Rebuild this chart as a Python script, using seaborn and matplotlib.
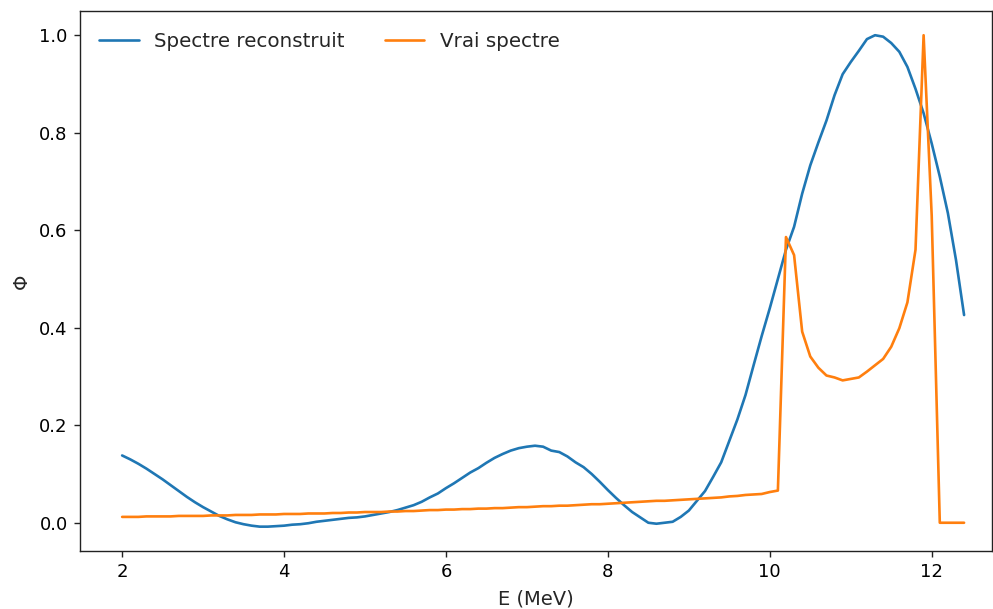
import numpy as np
import pandas as pd
import matplotlib
matplotlib.use("Agg")
import matplotlib.pyplot as plt
import seaborn as sns

energy = [round(2.0 + 0.1 * i, 1) for i in range(105)]

reconstructed = [
    0.138, 0.130, 0.121, 0.111, 0.100, 0.089, 0.077, 0.065, 0.053, 0.042,
    0.032, 0.023, 0.014, 0.007, 0.001, -0.003, -0.006, -0.008, -0.008, -0.007,
    -0.006, -0.004, -0.003, -0.001, 0.002, 0.004, 0.006, 0.008, 0.010, 0.011,
    0.013, 0.016, 0.019, 0.022, 0.026, 0.031, 0.036, 0.043, 0.052, 0.060,
    0.071, 0.081, 0.092, 0.103, 0.112, 0.123, 0.133, 0.141, 0.148, 0.153,
    0.156, 0.158, 0.156, 0.148, 0.145, 0.136, 0.124, 0.114, 0.100, 0.084,
    0.067, 0.051, 0.036, 0.022, 0.011, 0.000, -0.002, 0.000, 0.002, 0.012,
    0.025, 0.045, 0.065, 0.094, 0.124, 0.168, 0.212, 0.262, 0.323, 0.383,
    0.440, 0.500, 0.560, 0.607, 0.675, 0.733, 0.780, 0.825, 0.877, 0.920,
    0.945, 0.968, 0.992, 1.000, 0.997, 0.984, 0.966, 0.935, 0.890, 0.840,
    0.778, 0.710, 0.635, 0.539, 0.426,
]

true_spectrum = [
    0.012, 0.012, 0.012, 0.013, 0.013, 0.013, 0.013, 0.014, 0.014, 0.014,
    0.014, 0.015, 0.015, 0.015, 0.016, 0.016, 0.016, 0.017, 0.017, 0.017,
    0.018, 0.018, 0.018, 0.019, 0.019, 0.019, 0.020, 0.020, 0.021, 0.021,
    0.022, 0.022, 0.022, 0.023, 0.023, 0.024, 0.024, 0.025, 0.026, 0.026,
    0.027, 0.027, 0.028, 0.028, 0.029, 0.029, 0.030, 0.030, 0.031, 0.032,
    0.032, 0.033, 0.034, 0.034, 0.035, 0.035, 0.036, 0.037, 0.038, 0.038,
    0.039, 0.040, 0.041, 0.042, 0.043, 0.044, 0.045, 0.045, 0.046, 0.047,
    0.048, 0.049, 0.050, 0.051, 0.052, 0.054, 0.055, 0.057, 0.058, 0.059,
    0.063, 0.066, 0.586, 0.549, 0.392, 0.341, 0.318, 0.302, 0.298, 0.292,
    0.295, 0.298, 0.310, 0.323, 0.336, 0.361, 0.399, 0.452, 0.560, 1.000,
    0.630, 0.000, 0.000, 0.000, 0.000,
]

series_names = ["Spectre reconstruit", "Vrai spectre"]

df = pd.concat([
    pd.DataFrame({"E": energy, "phi": reconstructed, "serie": series_names[0]}),
    pd.DataFrame({"E": energy, "phi": true_spectrum, "serie": series_names[1]}),
], ignore_index=True)

sns.set_style("ticks")
plt.rcParams["font.family"] = ["DejaVu Sans"]
plt.rcParams["font.size"] = 14

fig = plt.figure(figsize=(9.93, 6.09), dpi=100)
ax = fig.add_axes([0.0806, 0.0952, 0.918, 0.887])

sns.lineplot(data=df, x="E", y="phi", hue="serie", hue_order=series_names,
             palette=["#1f77b4", "#ff7f0e"], linewidth=1.9, ax=ax, sort=False,
             estimator=None)

ax.set_xlim(1.48, 12.74)
ax.set_ylim(-0.058, 1.05)
ax.set_xticks([2, 4, 6, 8, 10, 12])
ax.set_yticks([0.0, 0.2, 0.4, 0.6, 0.8, 1.0])
ax.tick_params(labelsize=13, length=4.3, width=1, pad=4.6,
               colors="#222222", labelcolor="black")
ax.set_xlabel("E (MeV)", fontsize=14, labelpad=5.5)
ax.set_ylabel("Φ", fontsize=14, labelpad=6)
for s in ax.spines.values():
    s.set_visible(True)
    s.set_color("#222222")
    s.set_linewidth(1.0)
ax.legend(loc="upper left", ncol=2, frameon=False, fontsize=14.3,
          handlelength=2.0, columnspacing=2.0,
          bbox_to_anchor=(0.001, 0.994))

fig.savefig("out.png", dpi=100)
